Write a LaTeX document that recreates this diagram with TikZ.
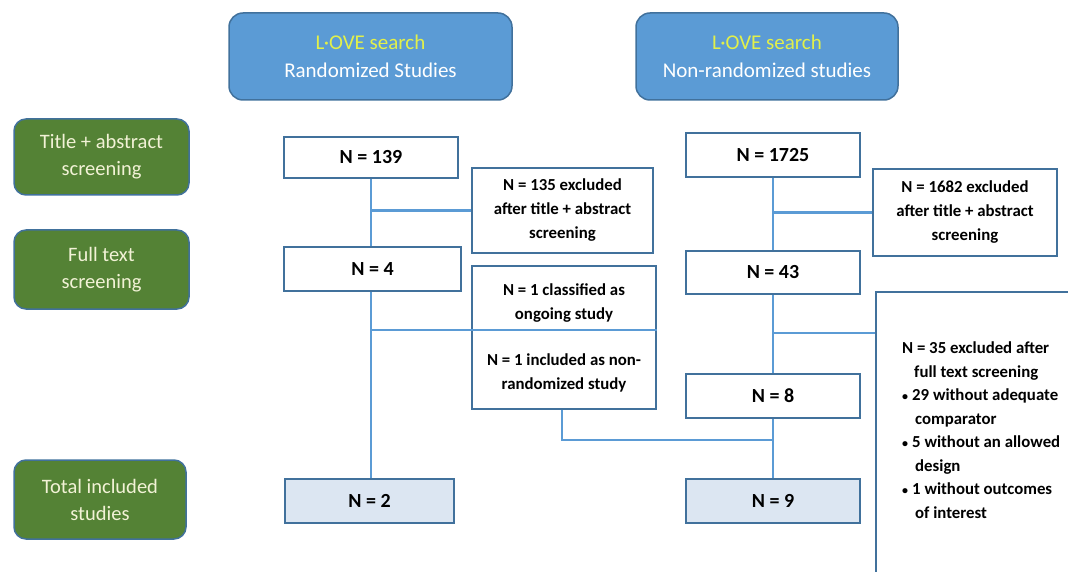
\documentclass[tikz,border=0pt]{standalone}
\usepackage{fontspec}
\setmainfont{Carlito}
\definecolor{topblue}{HTML}{5B9BD5}
\definecolor{bordblue}{HTML}{41719C}
\definecolor{linkblue}{HTML}{5B9BD5}
\definecolor{stagegreen}{HTML}{548235}
\definecolor{cream}{HTML}{F2F2D6}
\definecolor{loveyellow}{HTML}{E2F04A}
\definecolor{resultfill}{HTML}{DCE6F2}
\begin{document}
\begin{tikzpicture}[x=1pt,y=-1pt,
  topbox/.style={draw=bordblue,line width=1.5pt,fill=topblue,rounded corners=14pt,inner sep=0pt,align=center,font=\fontsize{21}{28}\selectfont,text=white},
  stagebox/.style={draw=bordblue,line width=1.5pt,fill=stagegreen,rounded corners=12pt,inner sep=0pt,align=center,font=\fontsize{20.5}{27}\selectfont,text=cream},
  nbox/.style={draw=bordblue,line width=2pt,fill=white,inner sep=0pt,align=center,font=\fontsize{20}{22}\selectfont\bfseries},
  exbox/.style={draw=bordblue,line width=2pt,fill=white,inner sep=0pt,align=center,font=\fontsize{16.8}{24}\selectfont\bfseries},
  resbox/.style={nbox,fill=resultfill},
  link/.style={draw=linkblue,line width=2.2pt}]
\useasboundingbox (0,0) rectangle (1068,572);
\clip (0,0) rectangle (1068,572);

% top search boxes
\node[topbox,minimum width=283pt,minimum height=87pt] (top1) at (370.5,56.5) {\textcolor{loveyellow}{L·OVE search}\\Randomized Studies};
\node[topbox,minimum width=262pt,minimum height=87pt] (top2) at (767,56.5) {\textcolor{loveyellow}{L·OVE search}\\Non-randomized studies};

% stage labels
\node[stagebox,minimum width=175pt,minimum height=76pt] (g1) at (101.5,157) {Title + abstract\\screening};
\node[stagebox,minimum width=175pt,minimum height=79pt] (g2) at (101.5,269.5) {Full text\\screening};
\node[stagebox,minimum width=172pt,minimum height=79pt] (g3) at (100,499.5) {Total included\\studies};

% randomized branch
\node[nbox,minimum width=174pt,minimum height=41pt] (n139) at (371,157.5) {N = 139};
\node[exbox,minimum width=181pt,minimum height=85pt] (e135) at (562.5,210.5) {N = 135 excluded\\after title + abstract\\screening};
\node[nbox,minimum width=177pt,minimum height=44pt] (n4) at (372.5,269) {N = 4};
\node[exbox,minimum width=184pt,minimum height=143pt] (e1) at (564,337.5) {N = 1 classified as\\ongoing study\\[22pt]N = 1 included as non-\\randomized study};
\node[resbox,minimum width=169pt,minimum height=44pt] (n2) at (369.5,501) {N = 2};

% non-randomized branch
\node[nbox,minimum width=174pt,minimum height=44pt] (n1725) at (773,155) {N = 1725};
\node[exbox,minimum width=184pt,minimum height=87pt] (e1682) at (965,212.5) {N = 1682 excluded\\after title + abstract\\screening};
\node[nbox,minimum width=174pt,minimum height=43pt] (n43) at (773,272.5) {N = 43};
\node[nbox,minimum width=174pt,minimum height=44pt] (n8) at (773,396) {N = 8};
\node[resbox,minimum width=174pt,minimum height=44pt] (n9) at (773,501) {N = 9};
\node[draw=bordblue,line width=2pt,fill=white,minimum width=240pt,minimum height=320pt,inner sep=0pt,anchor=north west] (e35) at (875,291) {};
\node[anchor=north west,inner sep=0pt,align=left,font=\fontsize{16.8}{23.5}\selectfont\bfseries] (e35t) at (902,342)
  {N = 35 excluded after\\
   \hspace*{12pt}full text screening\\
   {\fontsize{12}{12}\selectfont•}\hspace{4pt}29 without adequate\\
   \hspace*{13pt}comparator\\
   {\fontsize{12}{12}\selectfont•}\hspace{4pt}5 without an allowed\\
   \hspace*{13pt}design\\
   {\fontsize{12}{12}\selectfont•}\hspace{4pt}1 without outcomes\\
   \hspace*{13pt}of interest};

% coordinates for connector junctions
\coordinate (div) at (657,330);
\coordinate (jL) at (562,440);
\coordinate (jR) at (n8.south |- jL);

% connectors
\draw[link] (n139.south) -- (n139.south |- n4.north);
\draw[link] (n139.south |- e135.west) -- (e135.west);
\draw[link] (n139.south |- n4.south) -- (n139.south |- n2.north);
\draw[link] (n139.south |- div) -- (div);
\draw[link] (n1725.south) -- (n43.north);
\draw[link] (n1725.south |- e1682.west) -- (e1682.west);
\draw[link] (n43.south) -- (n8.north);
\draw[link] (n43.south |- 0,333) -- (e35.west |- 0,333);
\draw[link] (n8.south) -- (n9.north);
\draw[link] (e1.south -| jL) -- (jL) -- (jR);
\end{tikzpicture}
\end{document}
